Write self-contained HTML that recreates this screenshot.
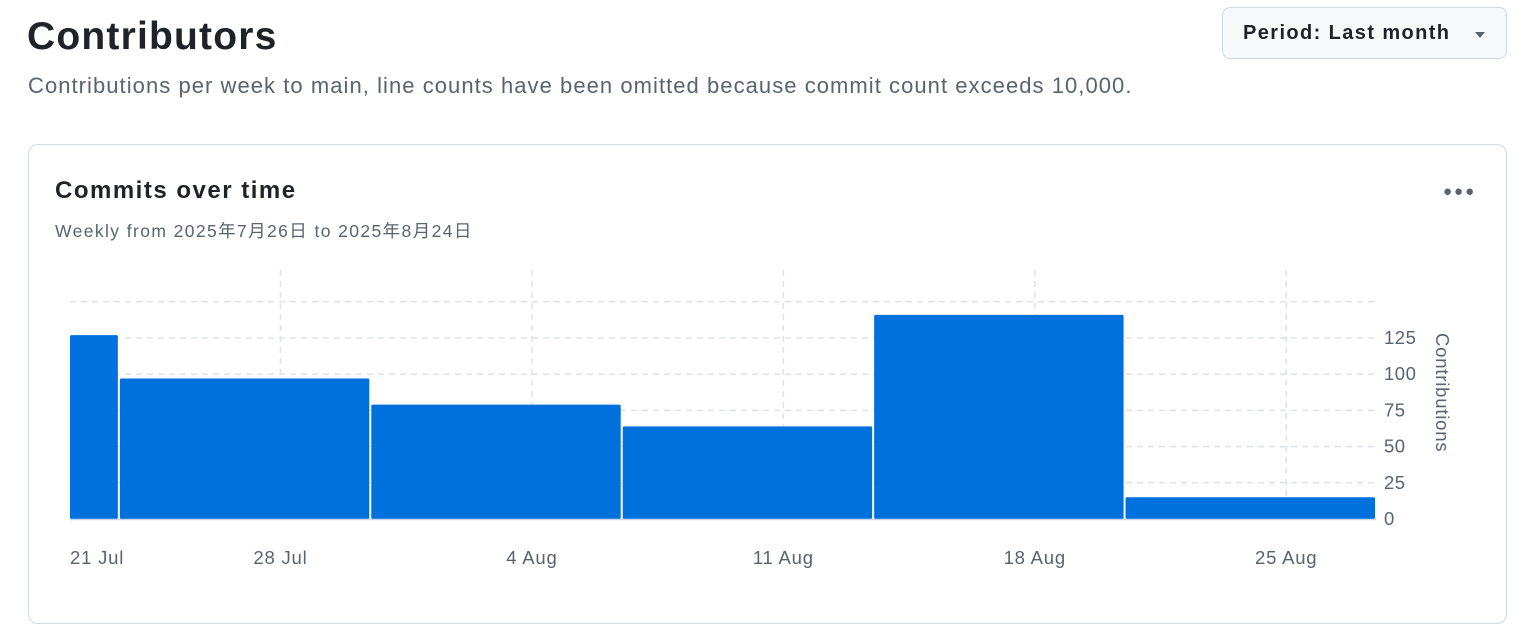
<!DOCTYPE html>
<html><head><meta charset="utf-8">
<style>
body{margin:0;width:1529px;height:596px;overflow:hidden;background:#fff;font-family:"Liberation Sans","Noto Sans CJK JP",sans-serif;color:#1f2328;position:relative}
.abs{position:absolute}
</style></head><body>
<div class="abs" style="left:27px;top:15px;font-size:39px;font-weight:bold;letter-spacing:1.2px">Contributors</div>
<div class="abs" style="left:28px;top:73px;font-size:22px;letter-spacing:1.05px;color:#59636e">Contributions per week to main, line counts have been omitted because commit count exceeds 10,000.</div>
<div class="abs" style="left:1222px;top:7px;width:285px;height:52px;border:1px solid #d1d9e0;border-radius:8px;background:#f6f8fa;box-sizing:border-box">
<span style="position:absolute;left:20px;top:14px;font-size:20px;font-weight:bold;letter-spacing:1.4px">Period: Last month</span>
<span style="position:absolute;left:252px;top:24px;width:0;height:0;border-left:5px solid transparent;border-right:5px solid transparent;border-top:6px solid #59636e"></span>
</div>
<div class="abs" style="left:28px;top:144px;width:1479px;height:480px;border:1px solid #d1d9e0;border-radius:10px;box-sizing:border-box"></div>
<div class="abs" style="left:55px;top:177px;font-size:24px;font-weight:bold;letter-spacing:1.5px">Commits over time</div>
<div class="abs" style="left:55px;top:218px;font-size:17.5px;letter-spacing:1.4px;color:#59636e">Weekly from 2025年7月26日 to 2025年8月24日</div>
<div class="abs" style="left:1443px;top:183px;font-size:15px;color:#59636e;letter-spacing:2px">●●●</div>
<svg class="abs" style="left:0;top:0" width="1529" height="596" id="chart"></svg>
<script>
const tickValues=[0,25,50,75,100,125];
const xTickLabels=["21 Jul","28 Jul","4 Aug","11 Aug","18 Aug","25 Aug"];
const xTickDays=[0,7,14,21,28,35];
const binStartDays=[1.14,2.5,9.5,16.5,23.5,30.5];
const binEndDays=[2.5,9.5,16.5,23.5,30.5,37.5];
const commits=[127,97,79,64,141,15];
const X0=70,X1=1376,D0=1.14,D1=37.5,Y0=519,PXU=1.448;
const x=d=>X0+(d-D0)/(D1-D0)*(X1-X0);
const y=v=>Y0-v*PXU;
const svg=document.getElementById('chart');const NS='http://www.w3.org/2000/svg';
function mk(t,a){const e=document.createElementNS(NS,t);for(const k in a)e.setAttribute(k,a[k]);svg.appendChild(e);return e;}
[...tickValues,150].forEach(v=>{if(v===0)return;const l=mk('line',{x1:X0,x2:X1,y1:y(v),y2:y(v),stroke:'#dfe3e8','stroke-dasharray':'6,5','stroke-width':1.5});

});
xTickDays.forEach((d,i)=>{const xx=x(d);if(xx>=X0){const l=mk('line',{x1:xx,x2:xx,y1:270,y2:Y0,stroke:'#dfe3e8','stroke-dasharray':'6,5','stroke-width':1.5});

}
const t=mk('text',{x:Math.max(xx,X0),y:564,'font-size':18.5,'letter-spacing':0.8,fill:'#59636e','text-anchor':xx<X0?'start':'middle'});t.textContent=xTickLabels[i];

});
commits.forEach((v,i)=>{const a=x(binStartDays[i]),b=x(binEndDays[i]);const r=mk('rect',{x:a+(i?1:0),y:y(v),width:b-a-(i?1:0)-1,height:Y0-y(v),fill:'#0070dc',rx:1.5});

});
const base=mk('line',{x1:X0,x2:X1,y1:Y0+0.5,y2:Y0+0.5,stroke:'#c9d7ee','stroke-width':1.5});


tickValues.forEach(v=>{const t=mk('text',{x:1384,y:y(v)+6,'font-size':18.5,'letter-spacing':0.5,fill:'#59636e'});t.textContent=v;

});
const yt=mk('text',{x:0,y:0,'font-size':18.5,'letter-spacing':0.8,fill:'#59636e',transform:'translate(1436,333) rotate(90)'});yt.textContent='Contributions';


</script>
</body></html>
